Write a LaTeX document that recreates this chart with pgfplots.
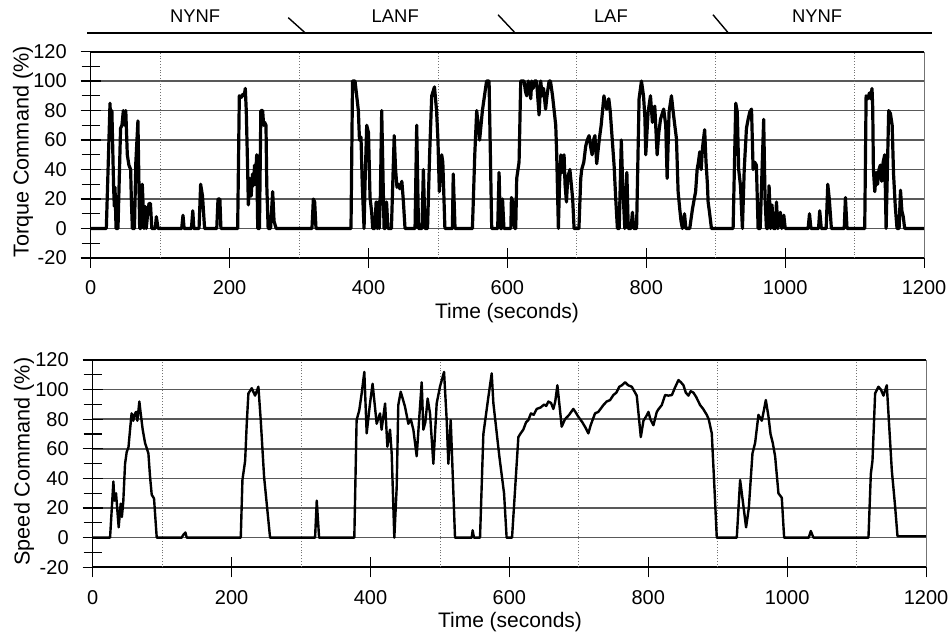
\documentclass[border=0pt]{standalone}
\usepackage{fontspec}
\setmainfont{Liberation Sans}
\usepackage{pgfplots}
\pgfplotsset{compat=1.18}
\pgfplotsset{mystyle/.style={
  scale only axis, width=416.7pt,
  xmin=0, xmax=1200, ymin=-20, ymax=120,
  axis x line*=bottom, axis y line*=left,
  xtick={0,200,...,1200}, ytick={-20,0,...,120},
  minor ytick={-10,10,...,110},
  ymajorgrids, major grid style={black!65, line width=0.8pt},
  extra x ticks={100,300,...,1100}, extra x tick labels={},
  extra x tick style={grid=major, major grid style={black!55, line width=0.4pt, densely dotted}, tick style={draw=none}},
  tick align=center, major tick length=10pt, minor tick length=9pt,
  tick style={black, line width=0.6pt},
  x axis line style={line width=1pt}, y axis line style={line width=0.7pt},
  tick label style={font=\fontsize{10}{12}\selectfont},
  /pgf/number format/assume math mode=true, /pgf/number format/1000 sep={},
  xticklabel style={yshift=-2.9pt}, yticklabel style={xshift=-3.5pt},
  clip=false}}
\begin{document}
\begin{tikzpicture}
\useasboundingbox (0,0) rectangle (474pt,317.5pt);
% ---------------- Torque ----------------
\begin{axis}[mystyle, at={(45.35pt,188.5pt)}, anchor=south west, height=103.2pt]
\addplot[black, line width=1.6pt, line join=round, no marks] coordinates {
(0,0) (22.5,0) (27.8,85) (29.5,60) (30.5,80) (33,28) (34,15) (35,28) (36.5,0) (39.3,0)
(43,68) (45,70) (47,80) (49,70) (50.5,80) (52.7,50) (55,43) (57.5,40) (58.5,20) (60,0) (63,0)
(65,45) (68,73) (70.5,0) (72,0) (74.3,30) (76.7,0) (78.5,15) (80,0) (82,10) (84,17) (86,17) (88,0)
(93,0) (94.5,8) (97,0) (131,0) (132.9,9) (134.5,0) (145,0) (147,12) (148.5,0) (156,0) (158.3,30)
(161,22) (164,0) (181.5,0) (183.3,20) (186,20) (187.5,0) (211.6,0) (214,90) (217,89) (219,91)
(221,90) (222.6,95) (224,80) (226,40) (227,16) (229,34) (231,22) (233,37) (234,29) (236,43)
(237,30) (239,50) (240.5,0) (243,0) (245,80) (247.6,80) (249,70) (250.5,72) (252.4,70) (253.5,30)
(255.5,0) (259,0) (262,25) (264,5) (267,0) (318.6,0) (320.6,20) (322.5,18) (324.4,0) (374.8,0)
(377,100) (380.6,100) (385.4,80) (387,60) (389.2,62) (391,30) (393.6,0) (395,30) (397.4,70)
(400,65) (402.2,21) (404.6,11) (406,0) (409,0) (411,18) (412.5,0) (414,18) (415.5,0) (417,20)
(419,80) (422.4,0) (424,0) (426,18) (428,0) (433,0) (437,63) (439,40) (441,28) (443,30) (445,27)
(448,32) (450,20) (452.6,0) (467,0) (469.4,70) (472,0) (477,0) (479,40) (481.4,0) (485,0) (488,50)
(491,90) (495,96) (498,80) (500,60) (502,25) (505.4,50) (507,45) (510,0) (520.8,0) (522,37)
(524.6,0) (549.6,0) (551,20) (553,50) (555.8,80) (558,70) (560,60) (562,70) (564,80) (567,90)
(570,100) (573.6,100) (577.4,0) (586,0) (588,38) (590,0) (592,0) (593,20) (595,0) (605,0)
(605.8,21) (608,18) (610.6,0) (612,0) (613.4,34) (616.8,45) (619.2,100) (624,100) (626,93)
(627.8,90) (630,100) (632,95) (633.6,88) (635,100) (637,95) (639,100) (642,100) (645.6,77)
(648,100) (650,90) (652,95) (655,81) (657,90) (660,100) (662,100) (665,90) (669.6,70) (671,50)
(673.4,0) (675,30) (677,50) (679,38) (681.6,50) (683,30) (685,18) (687,35) (690,40) (692,30)
(694,20) (696,0) (703,0) (705.6,34) (707,40) (710,45) (712.8,56) (715,60) (717.6,63) (720,55)
(722,50) (724,60) (726,63) (728.6,44) (731,55) (733,63) (735,70) (736.8,79) (739,90) (741,85)
(743,81) (746,88) (748,80) (751,60) (753.6,43) (756,20) (758.4,0) (761,0) (764,60) (766,30)
(769,0) (772,38) (774,0) (778,0) (780,11) (782,0) (786,0) (789.6,88) (793,100) (796,90) (798,75)
(799.2,50) (802.6,79) (806,90) (808.8,72) (812.2,83) (815.6,50) (818,65) (820.4,74) (823,78)
(825,81) (828,70) (830,34) (832.8,79) (836.2,90) (838.5,80) (841,70) (843.4,61) (845.8,25)
(848.2,13) (850,5) (852,0) (855,10) (857,0) (862.6,0) (864,5) (866.4,13) (869,20) (871,25)
(873.2,40) (875,45) (877,52) (879,40) (881,55) (884,67) (886,45) (888,30) (889,18) (891,11)
(893.8,0) (925,0) (928.8,85) (931,79) (933,40) (935.6,29) (938.4,0) (941,40) (944.2,68) (947,75)
(949,79) (951.5,81) (953.8,40) (956,45) (958.5,43) (961,0) (964,0) (966,30) (969,74) (971,20)
(973,0) (975,0) (976.8,29) (979,0) (981,16) (983,0) (986,0) (987.4,18) (989.5,0) (993,11) (995,0)
(998,9) (1000,0) (1033,0) (1035,10) (1037,0) (1048,0) (1049.7,12) (1052,0) (1059,0) (1061.3,30)
(1063.5,20) (1066.5,0) (1085,0) (1086.7,21) (1089,0) (1114.5,0) (1116.5,90) (1119,88) (1121.3,92)
(1123,88) (1125,95) (1126,82) (1127,40) (1129,25) (1131,38) (1133,30) (1135,40) (1137,43)
(1139,32) (1141,45) (1143.3,50) (1145.3,0) (1149,80) (1151.5,78) (1154,70) (1156,37) (1158.5,15)
(1161,0) (1164,0) (1166,26) (1168,12) (1170,8) (1172,0) (1200,0)
};
\draw[black, line width=1pt] (axis cs:0,120) -- (axis cs:1200,120);
\draw[black!55, line width=0.5pt] (axis cs:1200,-20) -- (axis cs:1200,120);
% phase band
\draw[black, line width=0.8pt] (axis cs:-5.3,132.7) -- (axis cs:1211.5,132.7);
\draw[black, line width=0.7pt] (axis cs:284.5,143) -- (axis cs:308.8,132.7);
\draw[black, line width=0.7pt] (axis cs:586.5,145) -- (axis cs:611,132.7);
\draw[black, line width=0.7pt] (axis cs:896,145) -- (axis cs:918,132.7);
\node[font=\fontsize{9.2}{11}\selectfont] at (axis cs:150.4,143.7) {NYNF};
\node[font=\fontsize{9.2}{11}\selectfont] at (axis cs:438.5,143.7) {LANF};
\node[font=\fontsize{9.2}{11}\selectfont] at (axis cs:749,143.7) {LAF};
\node[font=\fontsize{9.2}{11}\selectfont] at (axis cs:1046,143.7) {NYNF};
\end{axis}
% ---------------- Speed ----------------
\begin{axis}[mystyle, at={(46.35pt,33.85pt)}, anchor=south west, height=103.6pt]
\addplot[black, line width=1.2pt, line join=round, no marks] coordinates {
(0,0) (25,0) (29.8,38) (31.2,25) (33.6,30) (37.4,7) (40.3,23) (42,14) (44,24) (46.6,50) (49,58)
(51.5,61) (53.8,73) (56,84) (58.5,79) (60,83) (62.4,85) (64.3,79) (67.2,92) (69.1,84) (72,73)
(75.4,64) (80.2,57) (82.6,41) (85,29) (88.3,26.5) (92.2,0) (128,0) (130.6,2) (133.5,3.5) (135.4,0)
(213.2,0) (215.6,39) (219.5,52) (221.8,77) (224.2,97.5) (229,101) (233.8,96) (238.6,102) (242,79)
(246.8,41) (255.4,0) (320.2,0) (322.6,25) (326,0) (376.7,0) (380,79.5) (383.8,86) (387.3,97.5)
(391.1,112) (394.5,70.5) (399.3,90.7) (403,104) (408.9,77) (413.7,84) (416,73) (421,90.7)
(424.3,61.5) (428.1,73) (430.5,57) (434.3,0) (437.7,34) (440,89.6) (443.5,98.6) (449.7,88.5)
(454.5,77) (458,80) (461.7,73) (466.5,55) (470.3,81.7) (473.7,105) (476.1,73) (479,78) (482.3,94)
(485.7,84) (490.5,50) (495.3,90.7) (500,102) (505.9,112) (509.7,79.5) (512.1,50) (515.5,79.5)
(521.7,0) (545.7,0) (547.1,5) (549,0) (557.7,0) (562.5,70) (569.7,95) (574.5,111) (576.9,91)
(585.5,55) (592.3,30) (596,0) (603.8,0) (612.9,68) (616.2,70.5) (620,73) (624,78) (627.3,79.5)
(631,84) (635,83) (639.3,87) (645,88) (650,90) (653,89) (656.1,92) (660,91) (663.3,87) (666,92)
(669.1,103) (672,90) (675.3,75) (680,80) (686,83) (692,87) (695,85) (699.3,81.7) (705,78)
(710,74) (713.7,70.5) (717,76) (723.3,84) (728,85) (735.3,89.6) (740,92) (745,93) (749.7,96.4)
(754,98) (758.3,102) (762,103) (766.6,105) (771,103) (776.2,102) (783.4,96) (789.2,68) (793,79)
(797,82) (800.2,85) (803,80) (807.4,76) (812.2,85) (815,87) (819.4,89.6) (824.2,96.4) (829,96)
(834,96.4) (838,101) (843.4,106.5) (847,105) (850.6,103) (854,98) (857.8,96) (861,99) (865,98)
(869,95) (874.6,89.6) (879,87) (884.2,83) (887,80) (891.4,70.5) (895.2,34) (898.6,0) (927.4,0)
(932.2,39) (936,25) (940.8,7) (944.7,20) (950,57) (953.8,64) (958.6,83) (963.4,79) (966,85)
(969.2,93) (973,82) (976,70) (979.2,64) (982.6,55) (987.4,30) (992.2,27) (995.6,0) (1031,0)
(1034,4.5) (1037.8,0) (1117,0) (1120.4,43) (1122.8,52) (1126.6,97.5) (1131.4,102) (1135,100)
(1138.6,96) (1143.4,103) (1150.6,45.7) (1155.4,21) (1158.8,1) (1200,1)
};
\draw[black, line width=1pt] (axis cs:0,120) -- (axis cs:1200,120);
\draw[black!55, line width=0.5pt] (axis cs:1200,-20) -- (axis cs:1200,120);
\end{axis}
% axis titles
\node[rotate=90, font=\fontsize{10.8}{13}\selectfont] at (11.5pt,241.5pt) {Torque Command (\%)};
\node[rotate=90, font=\fontsize{10.8}{13}\selectfont] at (12pt,86.7pt) {Speed Command (\%)};
\node[anchor=base, font=\fontsize{10.5}{12.5}\selectfont] at (253.5pt,158pt) {Time (seconds)};
\node[anchor=base, font=\fontsize{10.5}{12.5}\selectfont] at (255pt,3.7pt) {Time (seconds)};
\end{tikzpicture}
\end{document}
